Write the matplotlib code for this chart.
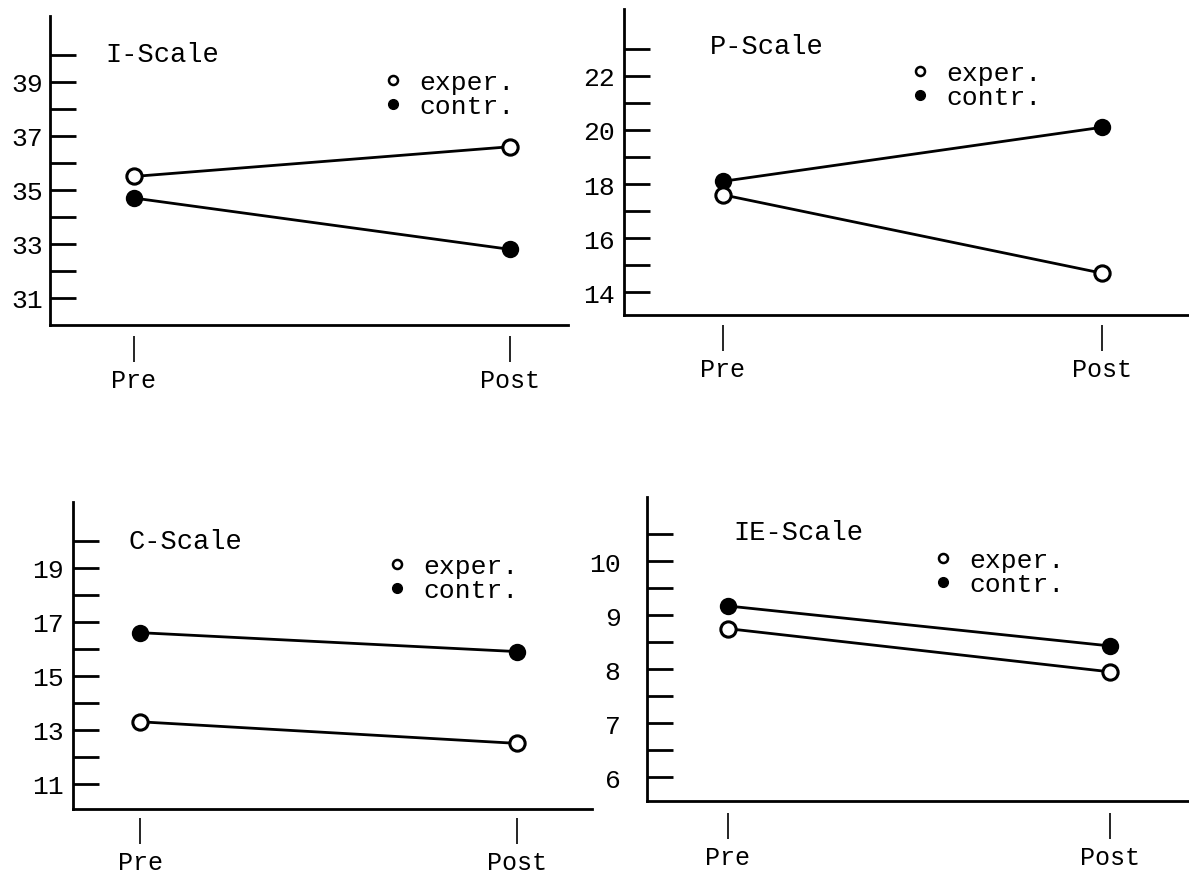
import numpy as np
import matplotlib
matplotlib.use('Agg')
import matplotlib.pyplot as plt
from matplotlib.lines import Line2D

plt.rcParams['font.family'] = ['Liberation Mono', 'DejaVu Sans Mono']

# values
phases = ['Pre', 'Post']

i_exper = [35.5, 36.6]
i_contr = [34.7, 32.8]
p_exper = [17.6, 14.7]
p_contr = [18.1, 20.1]
c_exper = [13.3, 12.5]
c_contr = [16.6, 15.9]
ie_exper = [8.75, 7.95]
ie_contr = [9.17, 8.43]

i_ticks = list(range(31, 41))
p_ticks = list(range(14, 24))
c_ticks = list(range(11, 21))
ie_ticks = [6, 6.5, 7, 7.5, 8, 8.5, 9, 9.5, 10, 10.5]

i_labels = [str(t) if t % 2 == 1 else '' for t in i_ticks]
p_labels = [str(t) if t % 2 == 0 else '' for t in p_ticks]
c_labels = [str(t) if t % 2 == 1 else '' for t in c_ticks]
ie_labels = [str(int(t)) if t == int(t) else '' for t in ie_ticks]

W, H = 1189, 878
fig = plt.figure(figsize=(W / 100, H / 100), dpi=100)


def px_axes(left, right, top, bottom):
    return fig.add_axes([left / W, 1 - bottom / H, (right - left) / W, (bottom - top) / H])


# layout: box in pixels (left, right, top, bottom), limits, text positions
panels = [
    dict(box=(50, 568, 17, 326), xlim=(-0.223, 1.154), ylim=(30.0, 41.44),
         exper=i_exper, contr=i_contr, ticks=i_ticks, labels=i_labels,
         title='I-Scale', tpos=(0.106, 0.877), lpos=(0.644, 0.824), pad=5, xgap=-0.036),
    dict(box=(624, 1189, 10, 316), xlim=(-0.261, 1.23), ylim=(13.15, 24.48),
         exper=p_exper, contr=p_contr, ticks=p_ticks, labels=p_labels,
         title='P-Scale', tpos=(0.152, 0.879), lpos=(0.507, 0.829), pad=6.5, xgap=-0.033),
    dict(box=(73, 592, 503, 810), xlim=(-0.178, 1.199), ylim=(10.07, 21.44),
         exper=c_exper, contr=c_contr, ticks=c_ticks, labels=c_labels,
         title='C-Scale', tpos=(0.106, 0.873), lpos=(0.606, 0.830), pad=6.5, xgap=-0.030),
    dict(box=(647, 1189, 498, 802), xlim=(-0.212, 1.207), ylim=(5.556, 11.19),
         exper=ie_exper, contr=ie_contr, ticks=ie_ticks, labels=ie_labels,
         title='IE-Scale', tpos=(0.159, 0.885), lpos=(0.529, 0.831), pad=19, xgap=-0.040),
]

x = np.arange(len(phases))

for p in panels:
    ax = px_axes(*p['box'])
    ax.plot(x, p['contr'], '-o', color='black', lw=2, ms=11,
            mfc='black', mec='black', mew=1.5, zorder=3, clip_on=False)
    ax.plot(x, p['exper'], '-o', color='black', lw=2, ms=11,
            mfc='white', mec='black', mew=2.2, zorder=3, clip_on=False)
    ax.set_xlim(*p['xlim'])
    ax.set_ylim(*p['ylim'])

    for side in ['top', 'right']:
        ax.spines[side].set_visible(False)
    for side in ['left', 'bottom']:
        ax.spines[side].set_linewidth(2)

    ax.set_yticks(p['ticks'], p['labels'])
    ax.tick_params(axis='y', direction='in', length=19, width=2,
                   pad=p['pad'], labelsize=19)
    ax.set_xticks([])

    sec = ax.secondary_xaxis(p['xgap'])
    sec.spines['bottom'].set_visible(False)
    sec.set_xticks(x, phases)
    sec.tick_params(direction='out', length=19, width=1.2, pad=4, labelsize=18)

    ax.text(p['tpos'][0], p['tpos'][1], p['title'], transform=ax.transAxes,
            ha='left', va='center', fontsize=19.5)

    handles = [Line2D([], [], ls='none', marker='o', ms=6.5, mfc='white', mec='black', mew=1.8),
               Line2D([], [], ls='none', marker='o', ms=7, mfc='black', mec='black')]
    ax.legend(handles, ['exper.', 'contr.'], loc='upper left', bbox_to_anchor=p['lpos'],
              frameon=False, borderpad=0, borderaxespad=0, handlelength=0.7,
              handletextpad=0.65, labelspacing=0, fontsize=19)

fig.savefig('out.png', dpi=100)
